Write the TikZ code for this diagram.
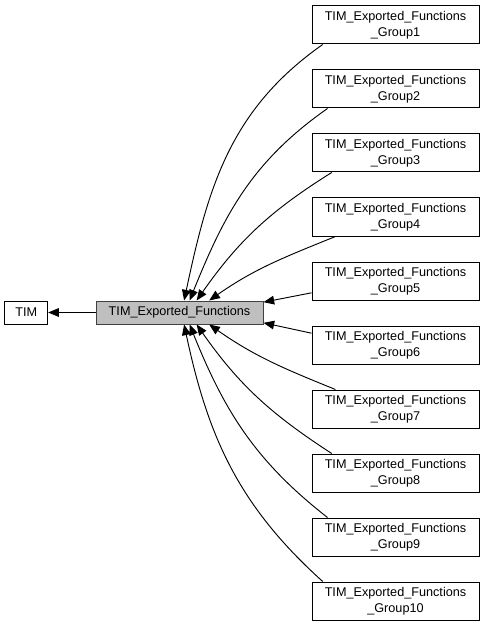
\documentclass[tikz,border=0pt]{standalone}
\usepackage{fontspec}
\setmainfont{Liberation Sans}
\usetikzlibrary{arrows.meta, positioning}
\definecolor{nodegray}{RGB}{191,191,191}
\definecolor{borderdark}{RGB}{64,64,64}

\begin{document}
\begin{tikzpicture}[
    x=0.75pt, y=0.75pt,
    every node/.style={font=\fontsize{9.5}{12}\selectfont},
    box/.style={rectangle, draw=black, fill=white, minimum height=17.25pt, inner sep=2pt, line width=0.75pt},
    group/.style={rectangle, draw=black, fill=white, minimum width=125.25pt, minimum height=28.5pt, align=center, inner sep=2pt, line width=0.75pt},
    arrow/.style={-{Triangle[length=8pt, width=6.5pt]}, line width=0.7pt, black}
]
\useasboundingbox (0,0) rectangle (483,-627);

% Central node
\node[box, fill=nodegray, draw=borderdark, minimum width=125.25pt] (center) at (179.5,-312.5) {TIM\_Exported\_Functions};
\node[box, minimum width=32.25pt, left=35.5pt of center] (tim) {TIM};

% Group nodes
\node[group] (g1) at (395.5,-25) {TIM\_Exported\_Functions\\\_Group1};
\node[group, below=18.75pt of g1] (g2) {TIM\_Exported\_Functions\\\_Group2};
\node[group, below=18.75pt of g2] (g3) {TIM\_Exported\_Functions\\\_Group3};
\node[group, below=18.75pt of g3] (g4) {TIM\_Exported\_Functions\\\_Group4};
\node[group, below=18.75pt of g4] (g5) {TIM\_Exported\_Functions\\\_Group5};
\node[group, below=18.75pt of g5] (g6) {TIM\_Exported\_Functions\\\_Group6};
\node[group, below=18.75pt of g6] (g7) {TIM\_Exported\_Functions\\\_Group7};
\node[group, below=18.75pt of g7] (g8) {TIM\_Exported\_Functions\\\_Group8};
\node[group, below=18.75pt of g8] (g9) {TIM\_Exported\_Functions\\\_Group9};
\node[group, below=18.75pt of g9] (g10) {TIM\_Exported\_Functions\\\_Group10};

% Arrows
\draw[arrow] (center) -- (tim);
\draw[arrow] (g1.195) to[out=215, in=78] (center.69);
\draw[arrow] (g2.196) to[out=215, in=68] (center.50);
\draw[arrow] (g3.197) to[out=212, in=55] (center.35);
\draw[arrow] (g4.198) to[out=202, in=35] (center.22);
\draw[arrow] (g5.188) -- (center.7);
\draw[arrow] (g6.172) -- (center.-7);
\draw[arrow] (g7.162) to[out=158, in=-35] (center.-22);
\draw[arrow] (g8.163) to[out=147, in=-55] (center.-35);
\draw[arrow] (g9.164) to[out=142, in=-68] (center.-50);
\draw[arrow] (g10.165) to[out=138, in=-78] (center.-69);

\end{tikzpicture}
\end{document}
